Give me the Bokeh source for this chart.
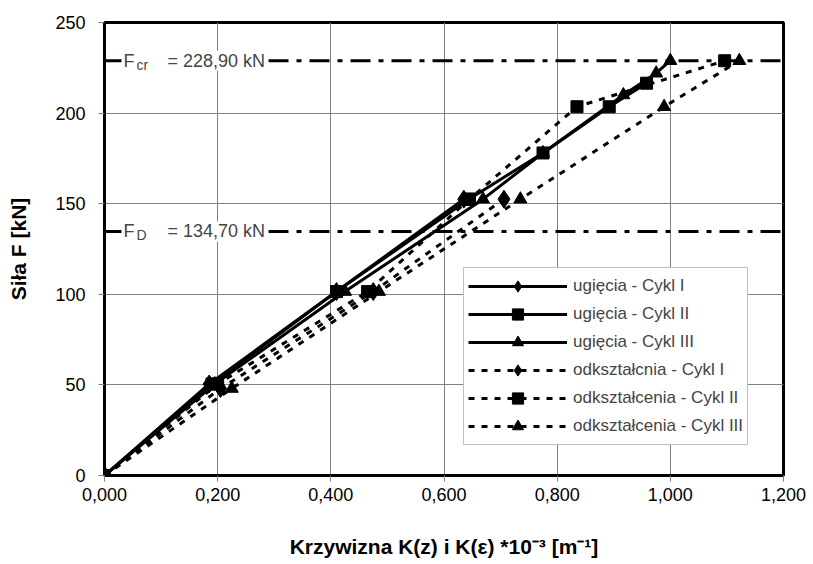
from bokeh.plotting import figure
from bokeh.models import Range1d, FixedTicker, CustomJSTickFormatter, Span, Label
from bokeh.embed import file_html
from bokeh.resources import INLINE

# ---- data ----
ug1_x = [0.000, 0.185, 0.410, 0.635]
ug1_F = [0.0, 50.5, 101.5, 152.5]

ug2_x = [0.000, 0.190, 0.410, 0.644, 0.775, 0.892, 0.958]
ug2_F = [0.0, 50.5, 101.5, 152.5, 178.0, 203.5, 216.5]

ug3_x = [0.000, 0.195, 0.425, 0.669, 0.775, 0.917, 0.975, 1.000]
ug3_F = [0.0, 50.5, 101.5, 152.5, 178.0, 210.0, 222.0, 228.9]

od1_x = [0.000, 0.205, 0.475, 0.706]
od1_F = [0.0, 48.0, 101.5, 152.5]

od2_x = [0.000, 0.200, 0.465, 0.645, 0.835, 1.096]
od2_F = [0.0, 50.5, 101.5, 152.5, 203.5, 228.9]

od3_x = [0.000, 0.225, 0.485, 0.735, 0.989, 1.122]
od3_F = [0.0, 48.0, 101.5, 152.5, 203.5, 228.9]

F_cr = 228.90
F_D = 134.70

x_ticks = [0.0, 0.2, 0.4, 0.6, 0.8, 1.0, 1.2]
y_ticks = [0, 50, 100, 150, 200, 250]

FONT = "Liberation Sans"

p = figure(width=813, height=564, x_range=Range1d(0, 1.2), y_range=Range1d(0, 250),
           output_backend="svg", toolbar_location=None,
           min_border_left=104, min_border_right=30, min_border_top=22, min_border_bottom=89)
p.background_fill_color = "white"
p.border_fill_color = "white"
p.outline_line_color = "black"
p.outline_line_width = 3

p.xaxis.ticker = FixedTicker(ticks=x_ticks)
p.yaxis.ticker = FixedTicker(ticks=y_ticks)
p.xaxis.formatter = CustomJSTickFormatter(code="return tick.toFixed(3).replace('.', ',');")
for ax in (p.xaxis, p.yaxis):
    ax.axis_line_width = 3
    ax.axis_line_color = "black"
    ax.major_tick_out = 6
    ax.major_tick_in = 0
    ax.major_tick_line_color = "#808080"
    ax.minor_tick_line_color = None
    ax.major_label_text_font = FONT
    ax.major_label_text_font_size = "18px"
    ax.major_label_text_color = "black"
    ax.axis_label_text_font = FONT
    ax.axis_label_text_font_size = "21px"
    ax.axis_label_text_font_style = "bold"
    ax.axis_label_text_color = "black"
p.yaxis.major_label_standoff = 13
p.xaxis.major_label_standoff = 6
p.yaxis.axis_label = "Siła F [kN]"
p.xaxis.axis_label = "Krzywizna K(z) i K(ε) *10⁻³ [m⁻¹]"
p.yaxis.axis_label_standoff = 22
p.xaxis.axis_label_standoff = 31

p.grid.grid_line_color = "#808080"
p.grid.grid_line_width = 1

# reference force lines
for val in (F_cr, F_D):
    p.add_layout(Span(location=val, dimension="width", line_color="black",
                      line_width=3, line_dash="20 8 5 8"))

def flabel(val, sub, txt):
    main = Label(x=0, y=val, x_offset=28, text=txt, text_font=FONT, text_font_size="18px",
                 text_baseline="middle", text_align="left", background_fill_color="white",
                 padding=dict(left=35, right=3, top=0, bottom=0))
    f = Label(x=0, y=val, x_offset=17, text="F", text_font=FONT, text_font_size="18px",
              text_baseline="middle", text_align="left", background_fill_color="white",
              padding=dict(left=2, right=0, top=0, bottom=0))
    s = Label(x=0, y=val, x_offset=32, y_offset=-12, text=sub, text_font=FONT,
              text_font_size="14px", text_baseline="bottom", text_align="left")
    for lab in (main, f, s):
        p.add_layout(lab)

flabel(F_cr, "cr", "= 228,90 kN")
flabel(F_D, "D", "= 134,70 kN")

series = [
    (ug1_x, ug1_F, "diamond", "solid", "ugięcia - Cykl I", 18),
    (ug2_x, ug2_F, "square", "solid", "ugięcia - Cykl II", 12),
    (ug3_x, ug3_F, "triangle", "solid", "ugięcia - Cykl III", 13),
    (od1_x, od1_F, "diamond", "6 7", "odkształcnia - Cykl I", 18),
    (od2_x, od2_F, "square", "6 7", "odkształcenia - Cykl II", 12),
    (od3_x, od3_F, "triangle", "6 7", "odkształcenia - Cykl III", 13),
]
for xs, fs, mk, dash, name, sz in series:
    p.line(xs, fs, line_color="black", line_width=3, line_dash=dash, legend_label=name)
    p.scatter(xs, fs, marker=mk, size=sz, fill_color="black", line_color="black",
              legend_label=name)

lg = p.legend[0]
lg.location = (359, 30)
lg.glyph_width = 99
lg.glyph_height = 28
lg.spacing = 0
lg.padding = 4
lg.margin = 0
lg.label_standoff = 6
lg.label_text_font = FONT
lg.label_text_font_size = "17px"
lg.label_height = 22
lg.border_line_color = "#808080"
lg.border_line_width = 1
lg.background_fill_alpha = 1.0

open("out.html", "w").write(file_html(p, INLINE))
